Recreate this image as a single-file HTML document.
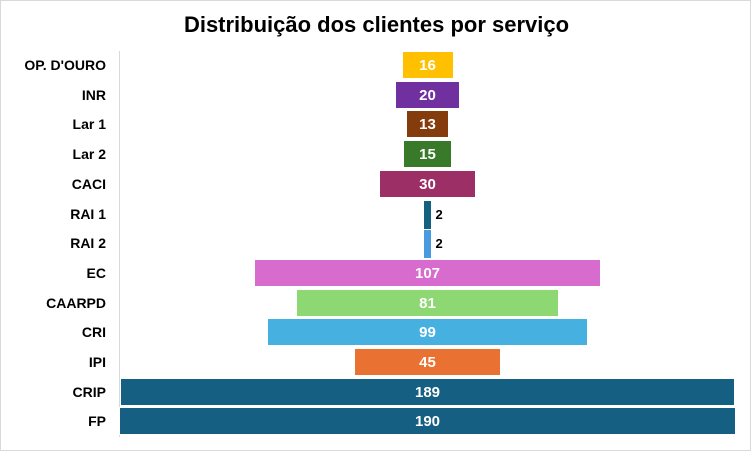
<!DOCTYPE html><html><head><style>
body{margin:0;background:#fff;}
.c{position:relative;width:751px;height:451px;overflow:hidden;font-family:"Liberation Sans",sans-serif;font-weight:bold;box-sizing:border-box;border:1px solid #d9d9d9;}
.t{position:absolute;top:11px;left:0;width:751px;text-align:center;font-size:22px;color:#000;}
.ax{position:absolute;left:118px;top:50px;width:1px;height:386px;background:#d9d9d9;}
.l{position:absolute;right:644px;font-size:14px;color:#000;white-space:nowrap;line-height:29px;}
.b{position:absolute;height:28px;border:1px solid #fff;box-sizing:border-box;color:#fff;font-size:15px;text-align:center;line-height:27px;}
.o{position:absolute;font-size:13px;color:#000;line-height:29px;}
</style></head><body><div class="c">
<div class="t">Distribuição dos clientes por serviço</div>
<div class="ax"></div>
<div id="r"></div>
<script>
var d=[["OP. D'OURO",16,"#ffc000"],["INR",20,"#7030a0"],["Lar 1",13,"#843c0c"],["Lar 2",15,"#38792a"],["CACI",30,"#9b2f66"],["RAI 1",2,"#14607e"],["RAI 2",2,"#4a9ae0"],["EC",107,"#d76bce"],["CAARPD",81,"#8dd873"],["CRI",99,"#46b1e1"],["IPI",45,"#e97132"],["CRIP",189,"#155f82"],["FP",190,"#155f82"]];
var h="",cx=426.5,s=3.25;
d.forEach(function(e,i){var y=50+i*29.7,w=e[1]*s,x=cx-w/2;
h+='<div class="l" style="top:'+(y)+'px">'+e[0]+'</div>';
if(e[1]<5){h+='<div class="b" style="border:none;left:'+(x)+'px;top:'+(y+1)+'px;width:'+Math.max(w,6)+'px;background:'+e[2]+'"></div><div class="o" style="left:'+(cx+8)+'px;top:'+y+'px">'+e[1]+'</div>';}
else h+='<div class="b" style="left:'+x+'px;top:'+y+'px;width:'+w+'px;background:'+e[2]+'">'+e[1]+'</div>';});
document.getElementById("r").innerHTML=h;
</script>
</div></body></html>
